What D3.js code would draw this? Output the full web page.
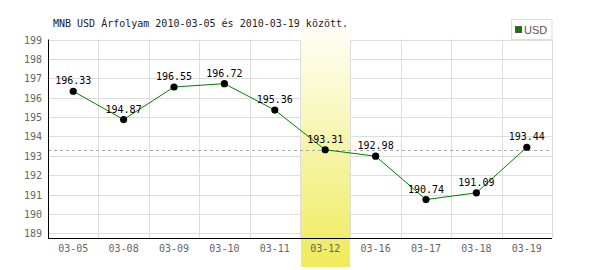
<!DOCTYPE html>
<html>
<head>
<meta charset="utf-8">
<script src="https://cdn.jsdelivr.net/npm/d3@7"></script>
<style>
  body { margin: 0; background: #fff; }
  svg { display: block; }
  text { font-family: "DejaVu Sans Mono", monospace; font-size: 10px; }
</style>
</head>
<body>
<svg id="chart" width="600" height="270"></svg>
<script>
// ------------------------------
// DONNEES
// ------------------------------
const dates = ["03-05", "03-08", "03-09", "03-10", "03-11", "03-12", "03-16", "03-17", "03-18", "03-19"];
const rates = [196.33, 194.87, 196.55, 196.72, 195.36, 193.31, 192.98, 190.74, 191.09, 193.44];
const yTicks = [189, 190, 191, 192, 193, 194, 195, 196, 197, 198, 199];
const highlightDate = "03-12";
const titleText = "MNB USD Árfolyam 2010-03-05 és 2010-03-19 között.";
const seriesName = "USD";

// ------------------------------
// DIMENSIONS
// ------------------------------
const plotLeft = 48, plotRight = 552, plotTop = 39.5, plotBottom = 238;
const svg = d3.select("#chart");

const x = d3.scaleBand().domain(dates).range([plotLeft, plotRight]);
const y = d3.scaleLinear().domain([189, 199]).range([233.3, plotTop]);

const defs = svg.append("defs");
const grad = defs.append("linearGradient")
  .attr("id", "hl").attr("x1", 0).attr("y1", 0).attr("x2", 0).attr("y2", 1);
grad.append("stop").attr("offset", "0%").attr("stop-color", "#fefef6");
grad.append("stop").attr("offset", "100%").attr("stop-color", "#efeb5c");

// grille
svg.append("g").selectAll("line")
  .data(yTicks).enter().append("line")
  .attr("x1", plotLeft).attr("x2", plotRight)
  .attr("y1", d => Math.round(y(d)) + 0.5).attr("y2", d => Math.round(y(d)) + 0.5)
  .attr("stroke", "#dddddd");

const vLines = dates.slice(1).map(d => x(d)).concat([plotRight]);
svg.append("g").selectAll("line")
  .data(vLines).enter().append("line")
  .attr("x1", d => Math.round(d) + 0.5)
  .attr("x2", d => Math.round(d) + 0.5)
  .attr("y1", plotTop).attr("y2", plotBottom)
  .attr("stroke", "#dddddd");

// colonne mise en avant
svg.append("rect")
  .attr("x", Math.round(x(highlightDate)) + 1)
  .attr("y", 29)
  .attr("width", Math.round(x.bandwidth()) - 1)
  .attr("height", 267 - 29)
  .attr("fill", "url(#hl)");

// ligne pointillee (valeur du jour)
const hlValue = rates[dates.indexOf(highlightDate)];
svg.append("line")
  .attr("x1", plotLeft).attr("x2", plotRight)
  .attr("y1", Math.round(y(hlValue)) + 0.5).attr("y2", Math.round(y(hlValue)) + 0.5)
  .attr("stroke", "#aaaaaa")
  .attr("stroke-dasharray", "3,3");

// axes
svg.append("line")
  .attr("x1", plotLeft + 0.5).attr("x2", plotLeft + 0.5)
  .attr("y1", plotTop).attr("y2", plotBottom)
  .attr("stroke", "#000");
svg.append("line")
  .attr("x1", plotLeft).attr("x2", plotRight)
  .attr("y1", plotBottom + 0.5).attr("y2", plotBottom + 0.5)
  .attr("stroke", "#000");

const yAxis = svg.append("g")
  .attr("transform", `translate(${plotLeft - 6},0)`)
  .call(d3.axisLeft(y).tickValues(yTicks).tickSize(0).tickPadding(0).tickFormat(d3.format("d")));
yAxis.select(".domain").remove();
yAxis.selectAll("text")
  .attr("fill", "#666").attr("dy", "0.35em")
  .style("font-family", "DejaVu Sans Mono, monospace").style("font-size", "10px");

const xAxis = svg.append("g")
  .attr("transform", `translate(0,${plotBottom})`)
  .call(d3.axisBottom(x).tickSize(0).tickPadding(0));
xAxis.select(".domain").remove();
xAxis.selectAll("text")
  .attr("fill", "#666").attr("y", 14).attr("dy", 0)
  .style("font-family", "DejaVu Sans Mono, monospace").style("font-size", "10px");

// courbe
const line = d3.line()
  .x((d, i) => x(dates[i]) + x.bandwidth() / 2)
  .y(d => y(d));
svg.append("path")
  .datum(rates)
  .attr("d", line)
  .attr("fill", "none")
  .attr("stroke", "#008000")
  .attr("stroke-width", 1);

svg.append("g").selectAll("circle")
  .data(rates).enter().append("circle")
  .attr("cx", (d, i) => x(dates[i]) + x.bandwidth() / 2)
  .attr("cy", d => y(d))
  .attr("r", 3.6)
  .attr("fill", "#000");

svg.append("g").selectAll("text")
  .data(rates).enter().append("text")
  .attr("x", (d, i) => x(dates[i]) + x.bandwidth() / 2)
  .attr("y", d => y(d) - 7)
  .attr("text-anchor", "middle")
  .attr("fill", "#000")
  .text(d => d.toFixed(2));

// titre
svg.append("text")
  .attr("x", 53).attr("y", 26.5)
  .attr("fill", "#222")
  .text(titleText);

// legende
svg.append("rect")
  .attr("x", 511.5).attr("y", 19.5)
  .attr("width", 40.5).attr("height", 20)
  .attr("fill", "none").attr("stroke", "#dddddd");
svg.append("rect")
  .attr("x", 515.5).attr("y", 26.5)
  .attr("width", 6).attr("height", 6)
  .attr("fill", "#008000").attr("stroke", "#555");
svg.append("text")
  .attr("x", 524).attr("y", 33.5)
  .attr("fill", "#555")
  .style("font-family", "Liberation Sans, sans-serif").style("font-size", "11px")
  .text(seriesName);
</script>
</body>
</html>
